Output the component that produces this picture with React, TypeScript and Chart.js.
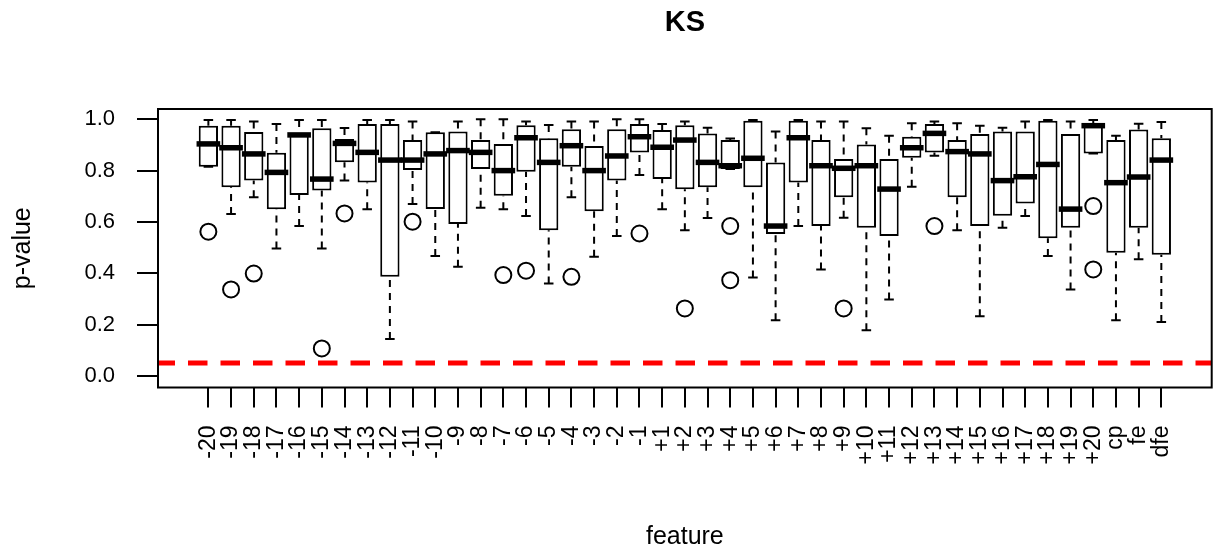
import React, { useEffect, useRef } from "react";
import { Chart, registerables } from "chart.js";

Chart.register(...registerables);

const FONT = "'Liberation Sans', Arial, Helvetica, sans-serif";

const categories = [
  "-20", "-19", "-18", "-17", "-16", "-15", "-14", "-13", "-12", "-11",
  "-10", "-9", "-8", "-7", "-6", "-5", "-4", "-3", "-2", "-1",
  "+1", "+2", "+3", "+4", "+5", "+6", "+7", "+8", "+9", "+10",
  "+11", "+12", "+13", "+14", "+15", "+16", "+17", "+18", "+19", "+20",
  "cp", "fe", "dfe",
];

const upperWhisker = [
  0.997, 0.997, 0.991, 0.982, 0.997, 0.997, 0.966, 0.997, 0.997, 0.991,
  0.949, 0.991, 1.0, 1.0, 0.991, 0.978, 0.991, 0.991, 1.0, 1.0,
  0.982, 0.991, 0.967, 0.925, 0.997, 0.952, 0.997, 0.991, 0.991, 0.965,
  0.936, 0.984, 0.991, 0.984, 0.975, 0.967, 0.991, 0.997, 0.991, 0.997,
  0.936, 0.983, 0.989,
];

const upperQuartile = [
  0.975, 0.975, 0.95, 0.87, 0.945, 0.965, 0.923, 0.982, 0.982, 0.919,
  0.949, 0.952, 0.919, 0.904, 0.977, 0.926, 0.961, 0.896, 0.961, 0.982,
  0.958, 0.977, 0.945, 0.919, 0.994, 0.832, 0.994, 0.919, 0.845, 0.902,
  0.845, 0.932, 0.982, 0.919, 0.943, 0.952, 0.952, 0.994, 0.943, 0.982,
  0.919, 0.96, 0.926,
];

const medians = [
  0.904, 0.889, 0.865, 0.793, 0.939, 0.767, 0.906, 0.871, 0.841, 0.841,
  0.865, 0.878, 0.871, 0.8, 0.928, 0.832, 0.897, 0.8, 0.857, 0.932,
  0.891, 0.919, 0.832, 0.819, 0.848, 0.584, 0.928, 0.819, 0.809, 0.819,
  0.728, 0.889, 0.945, 0.874, 0.865, 0.761, 0.776, 0.824, 0.65, 0.975,
  0.753, 0.775, 0.841,
];

const lowerQuartile = [
  0.815, 0.735, 0.761, 0.649, 0.705, 0.722, 0.833, 0.754, 0.386, 0.802,
  0.65, 0.592, 0.806, 0.702, 0.796, 0.568, 0.815, 0.642, 0.761, 0.871,
  0.767, 0.727, 0.735, 0.806, 0.735, 0.553, 0.754, 0.584, 0.696, 0.577,
  0.545, 0.85, 0.871, 0.696, 0.584, 0.624, 0.672, 0.536, 0.577, 0.867,
  0.48, 0.577, 0.472,
];

const lowerWhisker = [
  0.815, 0.631, 0.696, 0.497, 0.584, 0.497, 0.761, 0.649, 0.144, 0.67,
  0.467, 0.425, 0.655, 0.649, 0.623, 0.36, 0.696, 0.464, 0.545, 0.783,
  0.649, 0.568, 0.615, 0.806, 0.384, 0.217, 0.584, 0.415, 0.616, 0.178,
  0.298, 0.737, 0.858, 0.568, 0.233, 0.577, 0.623, 0.467, 0.337, 0.867,
  0.217, 0.455, 0.21,
];

const outlierCategory = [
  "-20", "-19", "-18", "-15", "-14", "-11", "-7", "-6", "-4", "-1",
  "+2", "+4", "+4", "+9", "+13", "+20", "+20",
];
const outlierValue = [
  0.562, 0.337, 0.399, 0.107, 0.633, 0.601, 0.393, 0.41, 0.386, 0.555,
  0.263, 0.584, 0.373, 0.263, 0.584, 0.662, 0.415,
];

const yTicks = [0, 0.2, 0.4, 0.6, 0.8, 1.0];
const threshold = 0.05;

const boxPlugin = {
  id: "boxWhiskers",
  afterDatasetsDraw(chart: any) {
    const { ctx, chartArea, scales } = chart;
    const x = scales.x;
    const y = scales.y;
    const unit = x.getPixelForValue(2) - x.getPixelForValue(1);
    const staple = unit * 0.21;
    const medHalf = unit * 0.4;
    ctx.save();
    ctx.strokeStyle = "#000";
    for (let i = 0; i < categories.length; i++) {
      const px = x.getPixelForValue(i + 1);
      const yHi = y.getPixelForValue(upperWhisker[i]);
      const yQ3 = y.getPixelForValue(upperQuartile[i]);
      const yMed = y.getPixelForValue(medians[i]);
      const yQ1 = y.getPixelForValue(lowerQuartile[i]);
      const yLo = y.getPixelForValue(lowerWhisker[i]);
      ctx.lineWidth = 2;
      ctx.lineCap = "butt";
      ctx.setLineDash([7, 6]);
      ctx.beginPath();
      if (yQ3 - yHi > 1) {
        ctx.moveTo(px, yHi);
        ctx.lineTo(px, yQ3);
      }
      if (yLo - yQ1 > 1) {
        ctx.moveTo(px, yLo);
        ctx.lineTo(px, yQ1);
      }
      ctx.stroke();
      ctx.setLineDash([]);
      ctx.beginPath();
      ctx.moveTo(px - staple, yHi);
      ctx.lineTo(px + staple, yHi);
      ctx.moveTo(px - staple, yLo);
      ctx.lineTo(px + staple, yLo);
      ctx.stroke();
      ctx.lineWidth = 5.5;
      ctx.lineCap = "square";
      ctx.beginPath();
      ctx.moveTo(px - medHalf, yMed);
      ctx.lineTo(px + medHalf, yMed);
      ctx.stroke();
    }
    ctx.lineWidth = 2;
    ctx.lineCap = "butt";
    ctx.strokeRect(
      chartArea.left,
      chartArea.top,
      chartArea.right - chartArea.left,
      chartArea.bottom - chartArea.top
    );
    ctx.restore();
  },
};

export default function App() {
  const canvasRef = useRef<HTMLCanvasElement | null>(null);

  useEffect(() => {
    const canvas = canvasRef.current;
    if (!canvas) return;
    const xMin = -1.22;
    const xMax = categories.length + 2.22;

    const chart = new Chart(canvas, {
      type: "bar",
      data: {
        datasets: [
          {
            type: "line",
            data: [
              { x: xMin, y: threshold },
              { x: xMax, y: threshold },
            ],
            borderColor: "#ff0000",
            borderWidth: 5,
            borderDash: [19.5, 13],
            borderDashOffset: 2.5,
            pointRadius: 0,
            fill: false,
            order: 3,
          } as any,
          {
            type: "bar",
            data: categories.map((_, i) => ({
              x: i + 1,
              y: [lowerQuartile[i], upperQuartile[i]],
            })),
            backgroundColor: "#ffffff",
            borderColor: "#000000",
            borderWidth: 2,
            borderSkipped: false,
            categoryPercentage: 1,
            barPercentage: 0.85,
            order: 2,
          } as any,
          {
            type: "scatter",
            data: outlierCategory.map((c, i) => ({
              x: categories.indexOf(c) + 1,
              y: outlierValue[i],
            })),
            backgroundColor: "#ffffff",
            borderColor: "#000000",
            pointRadius: 8,
            pointBorderWidth: 2,
            pointHoverRadius: 8,
            order: 1,
          } as any,
        ],
      },
      options: {
        animation: false,
        responsive: false,
        devicePixelRatio: 1,
        events: [],
        layout: {
          autoPadding: false,
          padding: { left: 0, right: 1.3, top: 0, bottom: 0 },
        },
        plugins: {
          legend: { display: false },
          tooltip: { enabled: false },
          title: {
            display: true,
            fullSize: false,
            text: "KS",
            color: "#000",
            font: { family: FONT, size: 29, weight: "bold" },
            padding: { top: 5.6, bottom: 68.6 },
          },
        },
        scales: {
          x: {
            type: "linear",
            min: xMin,
            max: xMax,
            bounds: "data",
            offset: false,
            afterBuildTicks: (s: any) => {
              s.ticks = categories.map((_, i) => ({ value: i + 1 }));
            },
            afterFit: (s: any) => {
              s.height = 164.5;
              s.paddingLeft = 0;
              s.paddingRight = 0;
            },
            ticks: {
              autoSkip: false,
              minRotation: 90,
              maxRotation: 90,
              padding: 18,
              color: "#000",
              font: { family: FONT, size: 23 },
              callback: (v: any) => categories[Math.round(Number(v)) - 1] ?? "",
            },
            grid: {
              display: true,
              drawOnChartArea: false,
              drawTicks: true,
              tickLength: 20,
              color: "#000",
              lineWidth: 2,
              offset: false,
            },
            border: { display: false },
            title: {
              display: true,
              text: "feature",
              color: "#000",
              font: { family: FONT, size: 25 },
              padding: { top: 0, bottom: 0 },
            },
          },
          y: {
            type: "linear",
            min: -0.045,
            max: 1.04,
            afterBuildTicks: (s: any) => {
              s.ticks = yTicks.map((v) => ({ value: v }));
            },
            afterFit: (s: any) => {
              s.width = 158;
              s.paddingTop = 0;
              s.paddingBottom = 0;
            },
            ticks: {
              padding: 22,
              color: "#000",
              font: { family: FONT, size: 22 },
              callback: (v: any) => Number(v).toFixed(1),
            },
            grid: {
              display: true,
              drawOnChartArea: false,
              drawTicks: true,
              tickLength: 21,
              color: "#000",
              lineWidth: 2,
            },
            border: { display: false },
            title: {
              display: true,
              text: "p-value",
              color: "#000",
              font: { family: FONT, size: 25 },
              padding: { top: 8, bottom: 0 },
            },
          },
        },
      } as any,
      plugins: [boxPlugin],
    });

    return () => {
      chart.destroy();
    };
  }, []);

  return (
    <div
      style={{
        position: "fixed",
        left: 0,
        top: 0,
        width: 1213,
        height: 552,
        background: "#fff",
      }}
    >
      <canvas
        ref={canvasRef}
        width={1213}
        height={552}
        style={{ display: "block", width: 1213, height: 552 }}
      />
    </div>
  );
}
